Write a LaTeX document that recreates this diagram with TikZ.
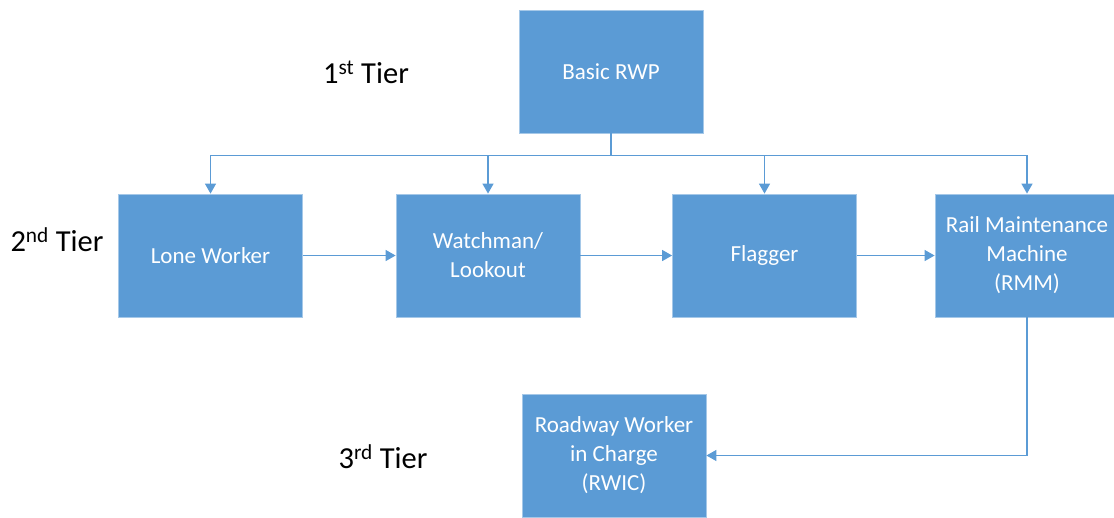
\documentclass[tikz,border=0pt]{standalone}
\usepackage{fontspec}
\setmainfont{Carlito}
\usetikzlibrary{positioning}
\usetikzlibrary{arrows.meta}
\definecolor{boxblue}{HTML}{5B9BD5}

\begin{document}
\begin{tikzpicture}[x=1pt, y=-1pt, >={Triangle[length=10pt,width=11pt]},
    box/.style={draw=boxblue!55!white, line width=0.8pt, fill=boxblue,
      minimum width=184pt, minimum height=123pt, inner sep=0pt,
      text=white, align=center, font=\fontsize{23}{29}\selectfont},
    tier/.style={font=\fontsize{30.5}{34}\selectfont},
    link/.style={draw=boxblue, line width=1.4pt}]
  \useasboundingbox (0,0) rectangle (1114,517);

  % Boxes of the three tiers
  \node[box] (rwp) at (611,71.5) {Basic RWP};
  \foreach \n/\x/\txt in {lone/210.5/{Lone Worker}, watch/488/{Watchman/\\Lookout},
      flag/764.5/{Flagger}, rmm/1027/{Rail Maintenance\\Machine\\(RMM)}} {
    \node[box] (\n) at (\x,255.5) {\txt};
  }
  \node[box] (rwic) at (614,455.5) {Roadway Worker\\in Charge\\(RWIC)};

  % Tier labels
  \node[tier] (t1) at (366,72) {1\textsuperscript{st} Tier};
  \node[tier] (t2) at (57,240) {2\textsuperscript{nd} Tier};
  \node[tier] (t3) at (383,457) {3\textsuperscript{rd} Tier};

  % Bus from the 1st tier down to the 2nd tier
  \draw[link] (rwp.south) -- ++(0,22) coordinate (bus);
  \draw[link] (lone.north |- bus) -- (rmm.north |- bus);
  \foreach \n in {lone, watch, flag, rmm} {
    \draw[link, ->] (\n.north |- bus) -- (\n.north);
  }

  % Along the 2nd tier, then down to the 3rd
  \draw[link, ->] (lone) -- (watch);
  \draw[link, ->] (watch) -- (flag);
  \draw[link, ->] (flag) -- (rmm);
  \draw[link, ->] (rmm.south) |- (rwic.east);
\end{tikzpicture}
\end{document}
